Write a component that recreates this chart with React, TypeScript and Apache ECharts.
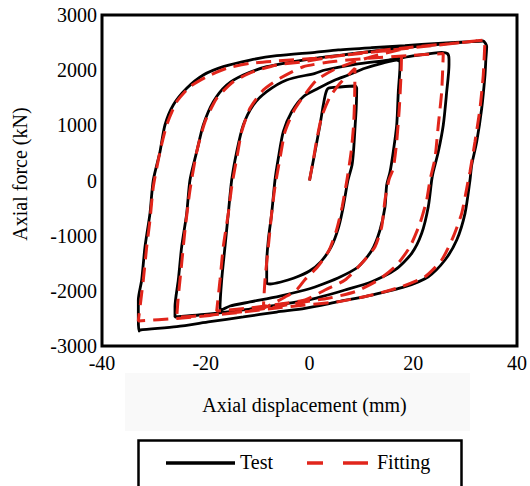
import React, { useEffect, useRef } from "react";
import * as echarts from "echarts";

// Axis settings
const xRange = [-40, 40];
const yRange = [-3000, 3000];
const xTickStep = 20;
const yTickStep = 1000;

// Test (black) curve, [displacement mm, force kN], loop by loop
const testLoop1 = [
  [0, 0], [1.06, 522], [2.02, 1006], [2.66, 1369], [3.12, 1581], [3.62, 1671], [5.88, 1695], [8.77, 1713], [9.1, 1671],
  [9.0, 1300], [8.8, 1000], [8.5, 550], [8.2, 280], [7.4, 0], [6.5, -480], [5.6, -850], [4.2, -1200], [2.2, -1470],
  [0, -1640], [-3.1, -1773], [-5.5, -1840], [-7.6, -1876], [-8.25, -1858],
];
const testLoop2 = [
  [-8.25, -1501], [-7.94, -1079], [-7.29, -595], [-6.65, 9], [-6.01, 402], [-5.05, 885], [-3.43, 1247], [-1.2, 1519],
  [1.7, 1671], [4.92, 1822], [7.48, 1912], [10.7, 2034], [13.92, 2124], [16.81, 2184], [17.45, 2153], [17.45, 2093],
  [17.12, 1610], [16.81, 1006], [16.15, 522], [15.52, 154], [14.88, -82], [14.55, -480], [13.59, -897], [12.05, -1260],
  [9.35, -1568], [5.49, -1767], [1.06, -1930], [-0.87, -1985], [-5.69, -2094], [-11.47, -2202], [-15.32, -2275], [-17.06, -2347],
];
const testLoop3 = [
  [-17.25, -2311], [-16.93, -1804], [-16.29, -1200], [-15.65, -595], [-15.0, 9], [-14.03, 522], [-12.76, 1006], [-10.83, 1369],
  [-8.25, 1610], [-4.4, 1822], [1.06, 1943], [2.99, 2003], [8.77, 2106], [15.19, 2184], [20.34, 2262], [25.48, 2324],
  [26.6, 2300], [26.89, 2200], [26.89, 2093], [26.45, 1610], [25.79, 1006], [24.83, 522], [23.86, 160], [23.56, 9],
  [22.9, -475], [21.63, -957], [19.7, -1320], [16.48, -1622], [11.99, -1834], [6.84, -1985], [2.35, -2106], [-0.87, -2179],
  [-6.32, -2257], [-12.76, -2347], [-19.18, -2420], [-25.93, -2474],
];
const testLoop4 = [
  [-25.93, -2288], [-25.29, -1804], [-24.64, -1200], [-23.67, -595], [-23.04, 9], [-21.74, 522], [-20.47, 1006], [-18.54, 1428],
  [-15.96, 1731], [-12.76, 1912], [-8.25, 2063], [-3.12, 2153], [1.06, 2215], [7.81, 2293], [17.45, 2400], [25, 2470],
  [31.27, 2516], [33.45, 2529], [34.16, 2425], [34.0, 2200], [33.83, 1912], [33.2, 1309], [32.23, 703], [31.27, 281],
  [30.94, 9], [29.98, -595], [28.38, -1079], [26.12, -1441], [22.9, -1744], [18.41, -1925], [11.99, -2076], [5.55, -2197],
  [-0.87, -2317], [-6.32, -2384], [-12.76, -2474], [-19.18, -2560], [-25.6, -2650], [-32.67, -2710], [-32.87, -2728],
];
const testLoop5 = [
  [-33.0, -2529], [-33.0, -2166], [-32.35, -1804], [-31.71, -1200], [-30.75, -595], [-30.11, 9], [-28.82, 522], [-27.86, 1006],
  [-26.26, 1369], [-23.67, 1671], [-20.47, 1912], [-16.62, 2063], [-11.47, 2184], [-6.32, 2262], [1.06, 2324], [5.55, 2366],
  [11.99, 2407], [18.41, 2443], [24.83, 2487], [31.27, 2516], [33.2, 2530],
];

// Fitting (red dashed) curve
const fitLoop1 = [
  [0, 0], [0.73, 372], [1.39, 734], [2.35, 1156], [3.95, 1519], [5.88, 1762], [7.81, 1943], [8.77, 2034],
  [8.7, 1500], [8.5, 1000], [8.0, 500], [7.2, 0], [6.3, -475], [5.2, -900], [3.8, -1260], [1.6, -1560],
  [-0.9, -1800], [-2.5, -1985], [-4.7, -2112], [-6.6, -2210], [-8.9, -2317],
];
const fitLoop2 = [
  [-8.58, -1804], [-7.94, -1200], [-7.29, -595], [-6.65, -112], [-5.69, 402], [-4.72, 885], [-3.12, 1247], [-1.2, 1519],
  [1.39, 1822], [4.59, 2003], [7.81, 2124], [11.99, 2244], [17.77, 2380], [17.64, 1912], [17.31, 1309], [16.81, 703],
  [16.15, 221], [15.3, 9], [14.55, -353], [13.92, -837], [12.63, -1200], [10.06, -1501], [6.84, -1804], [2.99, -1985],
  [-0.87, -2166], [-5.69, -2239], [-11.47, -2311], [-17.89, -2366],
];
const fitLoop3 = [
  [-17.25, -1804], [-16.62, -1200], [-15.65, -595], [-15.0, -112], [-14.03, 402], [-13.07, 885], [-11.47, 1309], [-8.91, 1640],
  [-5.69, 1853], [-1.2, 2063], [5, 2160], [12, 2220], [19, 2265], [25.79, 2300], [25.48, 1610], [24.83, 1006],
  [24.19, 402], [23.23, 9], [22.59, -353], [21.3, -776], [19.37, -1200], [16.81, -1532], [13.26, -1804], [8.77, -2016],
  [3.62, -2135], [-0.87, -2197], [-6.32, -2288], [-12.76, -2378], [-19.18, -2438], [-25.6, -2480],
];
const fitLoop4 = [
  [-25.29, -2106], [-24.64, -1501], [-24.0, -897], [-23.04, -172], [-21.74, 522], [-20.14, 1066], [-17.89, 1490], [-14.69, 1791],
  [-10.83, 1972], [-6.32, 2094], [-1.2, 2153], [5, 2250], [12, 2340], [20, 2420], [27, 2480], [33.83, 2547],
  [33.5, 1912], [32.87, 1309], [31.9, 703], [30.94, 160], [30.61, 9], [29.34, -595], [27.72, -1019], [25.48, -1441],
  [22.26, -1744], [17.77, -1925], [11.99, -2076], [5.55, -2197], [-0.87, -2257], [-6.32, -2311], [-12.76, -2384], [-19.18, -2447],
  [-25.6, -2502], [-33.0, -2547],
];
const fitLoop5 = [
  [-32.04, -1804], [-31.38, -1200], [-30.75, -716], [-30.11, -112], [-28.82, 522], [-27.53, 1006], [-25.6, 1428], [-23.04, 1700],
  [-19.82, 1882], [-15.96, 2034], [-11.47, 2124], [-6.32, 2166], [1.06, 2215], [8, 2286], [15, 2357], [22, 2428],
  [28, 2488], [33.83, 2547],
];

const seriesNames = ["Test", "Fitting"];
const xTitle = "Axial displacement (mm)";
const yTitle = "Axial force (kN)";

const FONT = '"Liberation Serif", "Times New Roman", serif';
const RED = "#e1251b";

export default function App() {
  const ref = useRef<HTMLDivElement>(null);

  useEffect(() => {
    if (!ref.current) return;
    const chart = echarts.init(ref.current, undefined, { renderer: "svg" });
    const testData = [...testLoop1, ...testLoop2, ...testLoop3, ...testLoop4, ...testLoop5];
    const fitData = [...fitLoop1, ...fitLoop2, ...fitLoop3, ...fitLoop4, ...fitLoop5];

    const txt = (text: string, x: number, y: number, align: string, extra: any = {}) => ({
      type: "text",
      x,
      y,
      z: 10,
      ...extra,
      style: {
        text,
        font: `20px ${FONT}`,
        fill: "#000",
        align,
        verticalAlign: "middle",
        textAlign: align,
        textVerticalAlign: "middle",
      },
    });

    chart.setOption({
      animation: false,
      backgroundColor: "#fff",
      grid: {
        show: true,
        left: 102,
        top: 15,
        width: 415,
        height: 331,
        borderColor: "#000",
        borderWidth: 3,
        backgroundColor: "transparent",
      },
      xAxis: {
        type: "value",
        min: xRange[0],
        max: xRange[1],
        interval: xTickStep,
        axisLine: { show: false },
        axisTick: { show: false },
        splitLine: { show: false },
        axisLabel: {
          fontFamily: FONT,
          fontSize: 20,
          color: "#000",
          margin: 7,
          formatter: (v: number) => String(v),
        },
      },
      yAxis: {
        type: "value",
        min: yRange[0],
        max: yRange[1],
        interval: yTickStep,
        axisLine: { show: false },
        axisTick: { show: false },
        splitLine: { show: false },
        axisLabel: {
          fontFamily: FONT,
          fontSize: 20,
          color: "#000",
          margin: 5,
          formatter: (v: number) => String(v),
        },
      },
      series: [
        {
          name: seriesNames[0],
          type: "line",
          data: testData,
          showSymbol: false,
          smooth: 0.25,
          lineStyle: { color: "#000", width: 2.8 },
          z: 2,
        },
        {
          name: seriesNames[1],
          type: "line",
          data: fitData,
          showSymbol: false,
          smooth: 0.2,
          lineStyle: { color: RED, width: 3, type: [15, 8] },
          z: 3,
        },
      ],
      graphic: [
        { type: "rect", shape: { x: 125, y: 373, width: 345, height: 58 }, style: { fill: "#f9f9f9" }, z: 1 },
        txt(xTitle, 304.5, 405, "center"),
        txt(yTitle, 20, 174, "center", { rotation: Math.PI / 2 }),
        {
          type: "rect",
          shape: { x: 138.5, y: 440.5, width: 323, height: 60 },
          style: { fill: "#fff", stroke: "#000", lineWidth: 2.5 },
          z: 5,
        },
        { type: "line", shape: { x1: 166, y1: 463, x2: 235, y2: 463 }, style: { stroke: "#000", lineWidth: 3.5 }, z: 6 },
        txt(seriesNames[0], 240, 462, "left"),
        { type: "line", shape: { x1: 307, y1: 463, x2: 323, y2: 463 }, style: { stroke: RED, lineWidth: 3.5 }, z: 6 },
        { type: "line", shape: { x1: 343, y1: 463, x2: 368, y2: 463 }, style: { stroke: RED, lineWidth: 3.5 }, z: 6 },
        txt(seriesNames[1], 377, 462, "left"),
      ],
    });

    return () => chart.dispose();
  }, []);

  return (
    <div
      ref={ref}
      style={{ position: "fixed", left: 0, top: 0, width: 530, height: 486, background: "#fff" }}
    />
  );
}
